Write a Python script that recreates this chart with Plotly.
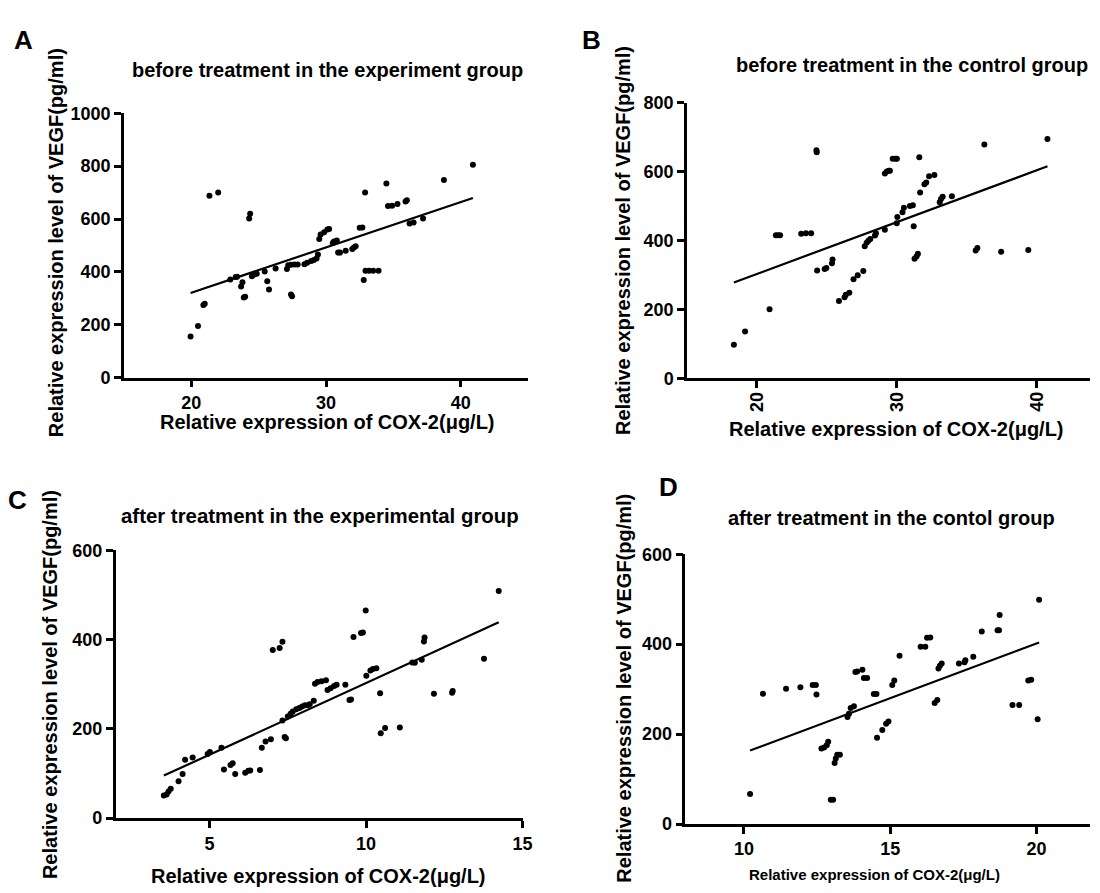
import plotly.graph_objects as go

W, H = 1100, 893
FONT = "Liberation Sans, Arial, sans-serif"

# ---------------- data ----------------
# Panel A: before treatment, experiment group
a_x = [19.95, 20.5, 20.9, 21.0, 21.35, 22.0, 22.9, 23.3, 23.4, 23.7, 23.8, 23.9, 24.0,
       24.3, 24.37, 24.5, 24.66, 24.86, 25.45, 25.64, 25.77, 26.26, 27.1, 27.2, 27.4,
       27.66, 27.9, 27.4, 27.48, 28.4, 28.6, 28.9, 29.1, 29.3, 29.4, 29.5, 29.6, 29.86,
       30.1, 30.23, 30.5, 30.6, 30.8, 30.9, 31.04, 31.46, 31.95, 32.07, 32.2, 32.5, 32.7,
       32.8, 32.9, 32.93, 33.2, 33.5, 33.9, 34.48, 34.6, 34.9, 35.3, 35.9, 36.0, 36.2,
       36.5, 37.2, 38.75, 40.9]
a_y = [155, 195, 275, 279, 688, 700, 371, 381, 382, 345, 361, 303, 306,
       602, 620, 383, 390, 393, 401, 365, 333, 413, 411, 425, 427,
       428, 428, 314, 308, 429, 435, 441, 445, 451, 466, 524, 541, 550,
       560, 562, 509, 515, 519, 473, 473, 480, 487, 492, 497, 567, 568,
       369, 700, 404, 404, 404, 404, 734, 649, 650, 657, 666, 671, 583,
       587, 602, 748, 805]
a_fit = [-22.8, 17.18]          # intercept, slope of the drawn regression line

# Panel B: before treatment, control group
b_x = [18.35, 19.15, 20.9, 21.35, 21.5, 21.65, 23.16, 23.5, 23.87, 24.25, 24.27, 24.3,
       24.84, 24.96, 25.36, 25.4, 25.86, 26.26, 26.35, 26.6, 26.9, 27.2, 27.6, 27.7,
       27.84, 27.96, 28.1, 28.43, 28.5, 29.14, 29.14, 29.28, 29.42, 29.5, 29.7, 29.9,
       30.0, 29.99, 30.03, 30.4, 30.5, 30.93, 31.14, 31.2, 31.26, 31.4, 31.5, 31.6,
       31.66, 31.97, 32.1, 32.3, 32.68, 33.06, 33.15, 33.27, 33.93, 35.63, 35.75,
       36.25, 37.45, 39.39, 40.76]
b_y = [97, 136, 200, 415, 415, 415, 419, 421, 421, 662, 656, 313,
       317, 320, 334, 345, 224, 235, 242, 248, 287, 299, 311, 383,
       393, 399, 404, 414, 421, 431, 594, 600, 602, 602, 637, 637,
       637, 450, 468, 482, 495, 500, 502, 441, 347, 353, 361, 641,
       539, 563, 568, 586, 590, 511, 520, 527, 528, 371, 378,
       678, 367, 372, 694]
b_fit = [2.0, 15.04]

# Panel C: after treatment, experimental group
c_x = [3.54, 3.63, 3.69, 3.76, 4.01, 4.14, 4.22, 4.46, 4.94, 5.01, 5.38, 5.46, 5.67,
       5.74, 5.82, 6.14, 6.24, 6.3, 6.61, 6.67, 6.79, 6.96, 7.02, 7.24, 7.33, 7.33,
       7.4, 7.44, 7.5, 7.59, 7.66, 7.77, 7.87, 7.96, 8.05, 8.14, 8.2, 8.33, 8.37, 8.45,
       8.58, 8.72, 8.77, 8.87, 8.98, 9.06, 9.34, 9.47, 9.52, 9.6, 9.84, 9.9, 9.99,
       10.01, 10.14, 10.22, 10.33, 10.45, 10.47, 10.61, 11.08, 11.48, 11.56, 11.78,
       11.85, 11.87, 12.17, 12.75, 12.77, 13.77, 14.24]
c_y = [51, 53, 60, 66, 83, 99, 131, 136, 144, 148, 158, 109, 119,
       123, 99, 102, 106, 107, 108, 158, 172, 177, 377, 381, 395, 219,
       182, 179, 228, 234, 239, 244, 247, 250, 253, 253, 255, 263, 301, 305,
       307, 309, 287, 291, 296, 299, 299, 265, 266, 406, 415, 416, 465,
       319, 331, 334, 336, 280, 190, 202, 203, 349, 348, 355,
       396, 405, 279, 281, 285, 357, 509]
c_fit = [-18.2, 32.08]

# Panel D: after treatment, control group
d_x = [10.21, 10.65, 11.44, 11.93, 12.35, 12.46, 12.48, 12.65, 12.74, 12.83, 12.88,
       12.97, 13.05, 13.1, 13.14, 13.19, 13.28, 13.54, 13.59, 13.65, 13.76, 13.81,
       13.87, 14.05, 14.1, 14.21, 14.44, 14.53, 14.55, 14.73, 14.86, 14.94, 15.07,
       15.14, 15.32, 16.04, 16.2, 16.26, 16.37, 16.52, 16.61, 16.65, 16.7, 16.76,
       17.35, 17.54, 17.57, 17.84, 18.13, 18.67, 18.72, 18.74, 19.18, 19.41, 19.72,
       19.82, 20.04, 20.09]
d_y = [67, 290, 301, 304, 309, 309, 288, 168, 170, 175, 183,
       54, 54, 136, 146, 154, 154, 238, 245, 258, 262, 338,
       339, 343, 325, 325, 289, 289, 192, 209, 223, 228, 309,
       319, 374, 394, 394, 414, 415, 269, 276, 346, 352, 357,
       357, 360, 364, 372, 428, 431, 431, 465, 265, 265, 319,
       321, 233, 499]
d_fit = [-84.8, 24.32]

panel_letters = ["A", "B", "C", "D"]
panel_titles = ["before treatment in the experiment group",
                "before treatment in the control group",
                "after treatment in the experimental group",
                "after treatment in the contol group"]
x_title = "Relative expression of COX-2(μg/L)"
y_title = "Relative expression level of VEGF(pg/ml)"

x_ticks = [[20, 30, 40], [20, 30, 40], [5, 10, 15], [10, 15, 20]]
y_ticks = [[0, 200, 400, 600, 800, 1000], [0, 200, 400, 600, 800],
           [0, 200, 400, 600], [0, 200, 400, 600]]

# ---------------- layout geometry (pixels) ----------------
boxes = [
    dict(l=125.0, r=533.0, t=105.7, b=376.0, xr=[15, 45], yr=[0, 1000]),
    dict(l=693.3, r=1100.0, t=94.7, b=376.7, xr=[15, 43.80], yr=[0, 800]),
    dict(l=116.7, r=527.3, t=552.7, b=826.7, xr=[2, 15], yr=[0, 600]),
    dict(l=691.7, r=1100.0, t=556.7, b=832.7, xr=[8, 21.83], yr=[0, 600]),
]


def px(x):
    return x / W


def py(y):
    return 1 - y / H


fig = go.Figure()
datasets = [(a_x, a_y, a_fit), (b_x, b_y, b_fit), (c_x, c_y, c_fit), (d_x, d_y, d_fit)]

for i, (xs, ys, fit) in enumerate(datasets):
    n = "" if i == 0 else str(i + 1)
    fig.add_trace(go.Scatter(x=xs, y=ys, mode="markers", xaxis="x" + n, yaxis="y" + n,
                             marker=dict(color="black", size=6), showlegend=False,
                             cliponaxis=False))
    x0, x1 = min(xs), max(xs)
    fig.add_trace(go.Scatter(x=[x0, x1], y=[fit[0] + fit[1] * x0, fit[0] + fit[1] * x1],
                             mode="lines", xaxis="x" + n, yaxis="y" + n,
                             line=dict(color="black", width=2.2), showlegend=False))

layout = dict(width=W, height=H, margin=dict(l=0, r=0, t=0, b=0),
              paper_bgcolor="white", plot_bgcolor="white",
              font=dict(family=FONT, color="black"))

tickfont = dict(family=FONT, size=18, color="black", weight="bold")
for i, bx in enumerate(boxes):
    n = "" if i == 0 else str(i + 1)
    layout["xaxis" + n] = dict(
        domain=[px(bx["l"]), px(bx["r"])], range=bx["xr"], anchor="y" + n,
        showgrid=False, zeroline=False, showline=True, linecolor="black", linewidth=2.5,
        ticks="outside", ticklen=7, tickwidth=2.5, tickcolor="black",
        tickvals=x_ticks[i], ticktext=[str(v) for v in x_ticks[i]], tickfont=tickfont,
        showticklabels=(i != 1), fixedrange=True)
    layout["yaxis" + n] = dict(
        domain=[py(bx["b"]), py(bx["t"])], range=bx["yr"], anchor="x" + n,
        showgrid=False, zeroline=False, showline=True, linecolor="black", linewidth=2.5,
        ticks="outside", ticklen=7, tickwidth=2.5, tickcolor="black",
        tickvals=y_ticks[i], ticktext=[str(v) for v in y_ticks[i]], tickfont=tickfont,
        fixedrange=True)

fig.update_layout(**layout)

# text positions (pixel centres)
letter_pos = [(24, 31), (597, 31), (18, 501), (675, 488)]
title_pos = [(331, 61), (920, 56), (323, 518), (900, 520)]
title_size = [20, 20, 20.4, 20]
xtitle_pos = [(330, 421), (905, 429), (321, 886), (883, 884)]
xtitle_size = [20, 20, 20, 15]
ytitle_pos = [(56, 238), (628, 236), (50, 690), (630, 694)]

ann = []
for i in range(4):
    ann.append(dict(text=panel_letters[i], x=px(letter_pos[i][0]), y=py(letter_pos[i][1]),
                    xref="paper", yref="paper", showarrow=False, xanchor="center",
                    yanchor="middle", font=dict(family=FONT, size=26, weight="bold")))
    ann.append(dict(text=panel_titles[i], x=px(title_pos[i][0]), y=py(title_pos[i][1]),
                    xref="paper", yref="paper", showarrow=False, xanchor="center",
                    yanchor="middle",
                    font=dict(family=FONT, size=title_size[i], weight="bold")))
    ann.append(dict(text=x_title, x=px(xtitle_pos[i][0]), y=py(xtitle_pos[i][1]),
                    xref="paper", yref="paper", showarrow=False, xanchor="center",
                    yanchor="middle",
                    font=dict(family=FONT, size=xtitle_size[i], weight="bold")))
    ann.append(dict(text=y_title, x=px(ytitle_pos[i][0]), y=py(ytitle_pos[i][1]),
                    xref="paper", yref="paper", showarrow=False, xanchor="center",
                    yanchor="middle", textangle=-90,
                    font=dict(family=FONT, size=20, weight="bold")))

# panel B x tick labels are drawn rotated (reading bottom to top)
for v in x_ticks[1]:
    ann.append(dict(text=str(v), x=v, xref="x2", y=py(401), yref="paper",
                    showarrow=False, xanchor="center", yanchor="middle", textangle=-90,
                    font=dict(family=FONT, size=18, weight="bold")))

fig.update_layout(annotations=ann)

fig.write_html("out.html")
